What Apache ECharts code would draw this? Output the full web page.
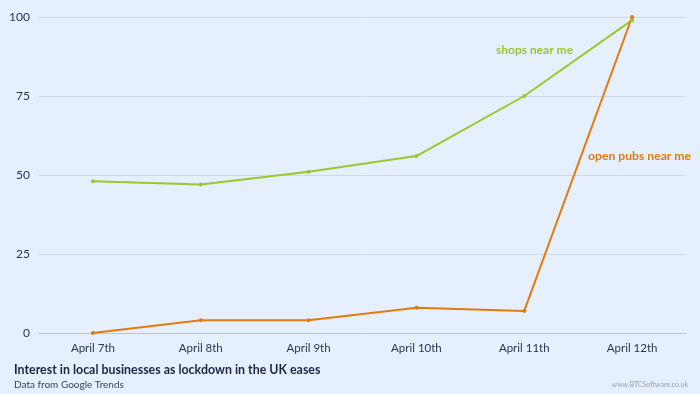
<!DOCTYPE html>
<html><head><meta charset="utf-8">
<script src="https://cdn.jsdelivr.net/npm/echarts@6/dist/echarts.min.js"></script>
<style>html,body{margin:0;padding:0;background:#e6effd}#c{width:700px;height:394px}</style>
</head><body><div id="c"></div>
<script>
const categories = ['April 7th','April 8th','April 9th','April 10th','April 11th','April 12th'];
const shops = [48, 47, 51, 56, 75, 99];
const pubs = [0, 4, 4, 8, 7, 100];
const yTicks = [0, 25, 50, 75, 100];

const chart = echarts.init(document.getElementById('c'), null, {renderer:'canvas'});
chart.setOption({
  backgroundColor: '#e6effd',
  animation: false,
  textStyle: {fontFamily: 'Lato'},
  grid: {left: 39, right: 14, top: 17, bottom: 61, containLabel: false},
  xAxis: {
    type: 'category', data: categories, boundaryGap: true,
    axisLine: {show: true, lineStyle: {color: '#bcc4d6', width: 1}},
    axisTick: {show: false},
    axisLabel: {color: '#2e3350', fontSize: 11.5, margin: 9, fontFamily: 'Lato'}
  },
  yAxis: {
    type: 'value', min: 0, max: 100, interval: 25,
    axisLine: {show: false}, axisTick: {show: false},
    splitLine: {lineStyle: {color: '#cfd8ea', width: 1}},
    axisLabel: {color: '#2e3350', fontSize: 12, margin: 9, fontFamily: 'Lato',
      formatter: v => yTicks.includes(v) ? String(v) : ''}
  },
  series: [
    {name: 'shops near me', type: 'line', data: shops, smooth: false,
     symbol: 'circle', symbolSize: 4, color: '#9cc62b',
     lineStyle: {width: 2, color: '#9cc62b'}, itemStyle: {color: '#9cc62b'}},
    {name: 'open pubs near me', type: 'line', data: pubs, smooth: false,
     symbol: 'circle', symbolSize: 4, color: '#e27a0c',
     lineStyle: {width: 2, color: '#e27a0c'}, itemStyle: {color: '#e27a0c'}}
  ],
  graphic: [
    {type: 'text', left: 496, top: 44, style: {text: 'shops near me', fill: '#9cc62b', font: 'bold 12px Lato'}},
    {type: 'text', left: 588, top: 150, style: {text: 'open pubs near me', fill: '#e27a0c', font: 'bold 12.2px Lato'}},
    {type: 'text', left: 14, top: 364, style: {text: 'Interest in local businesses as lockdown in the UK eases', fill: '#1f2440', font: 'bold 12.4px Lato'}},
    {type: 'text', left: 14, top: 380, style: {text: 'Data from Google Trends', fill: '#3a3f58', font: '10px Lato'}},
    {type: 'text', right: 12, top: 381, style: {text: 'www.BTCSoftware.co.uk', fill: '#9aa0b0', font: '7px Lato'}}
  ]
});
</script></body></html>
